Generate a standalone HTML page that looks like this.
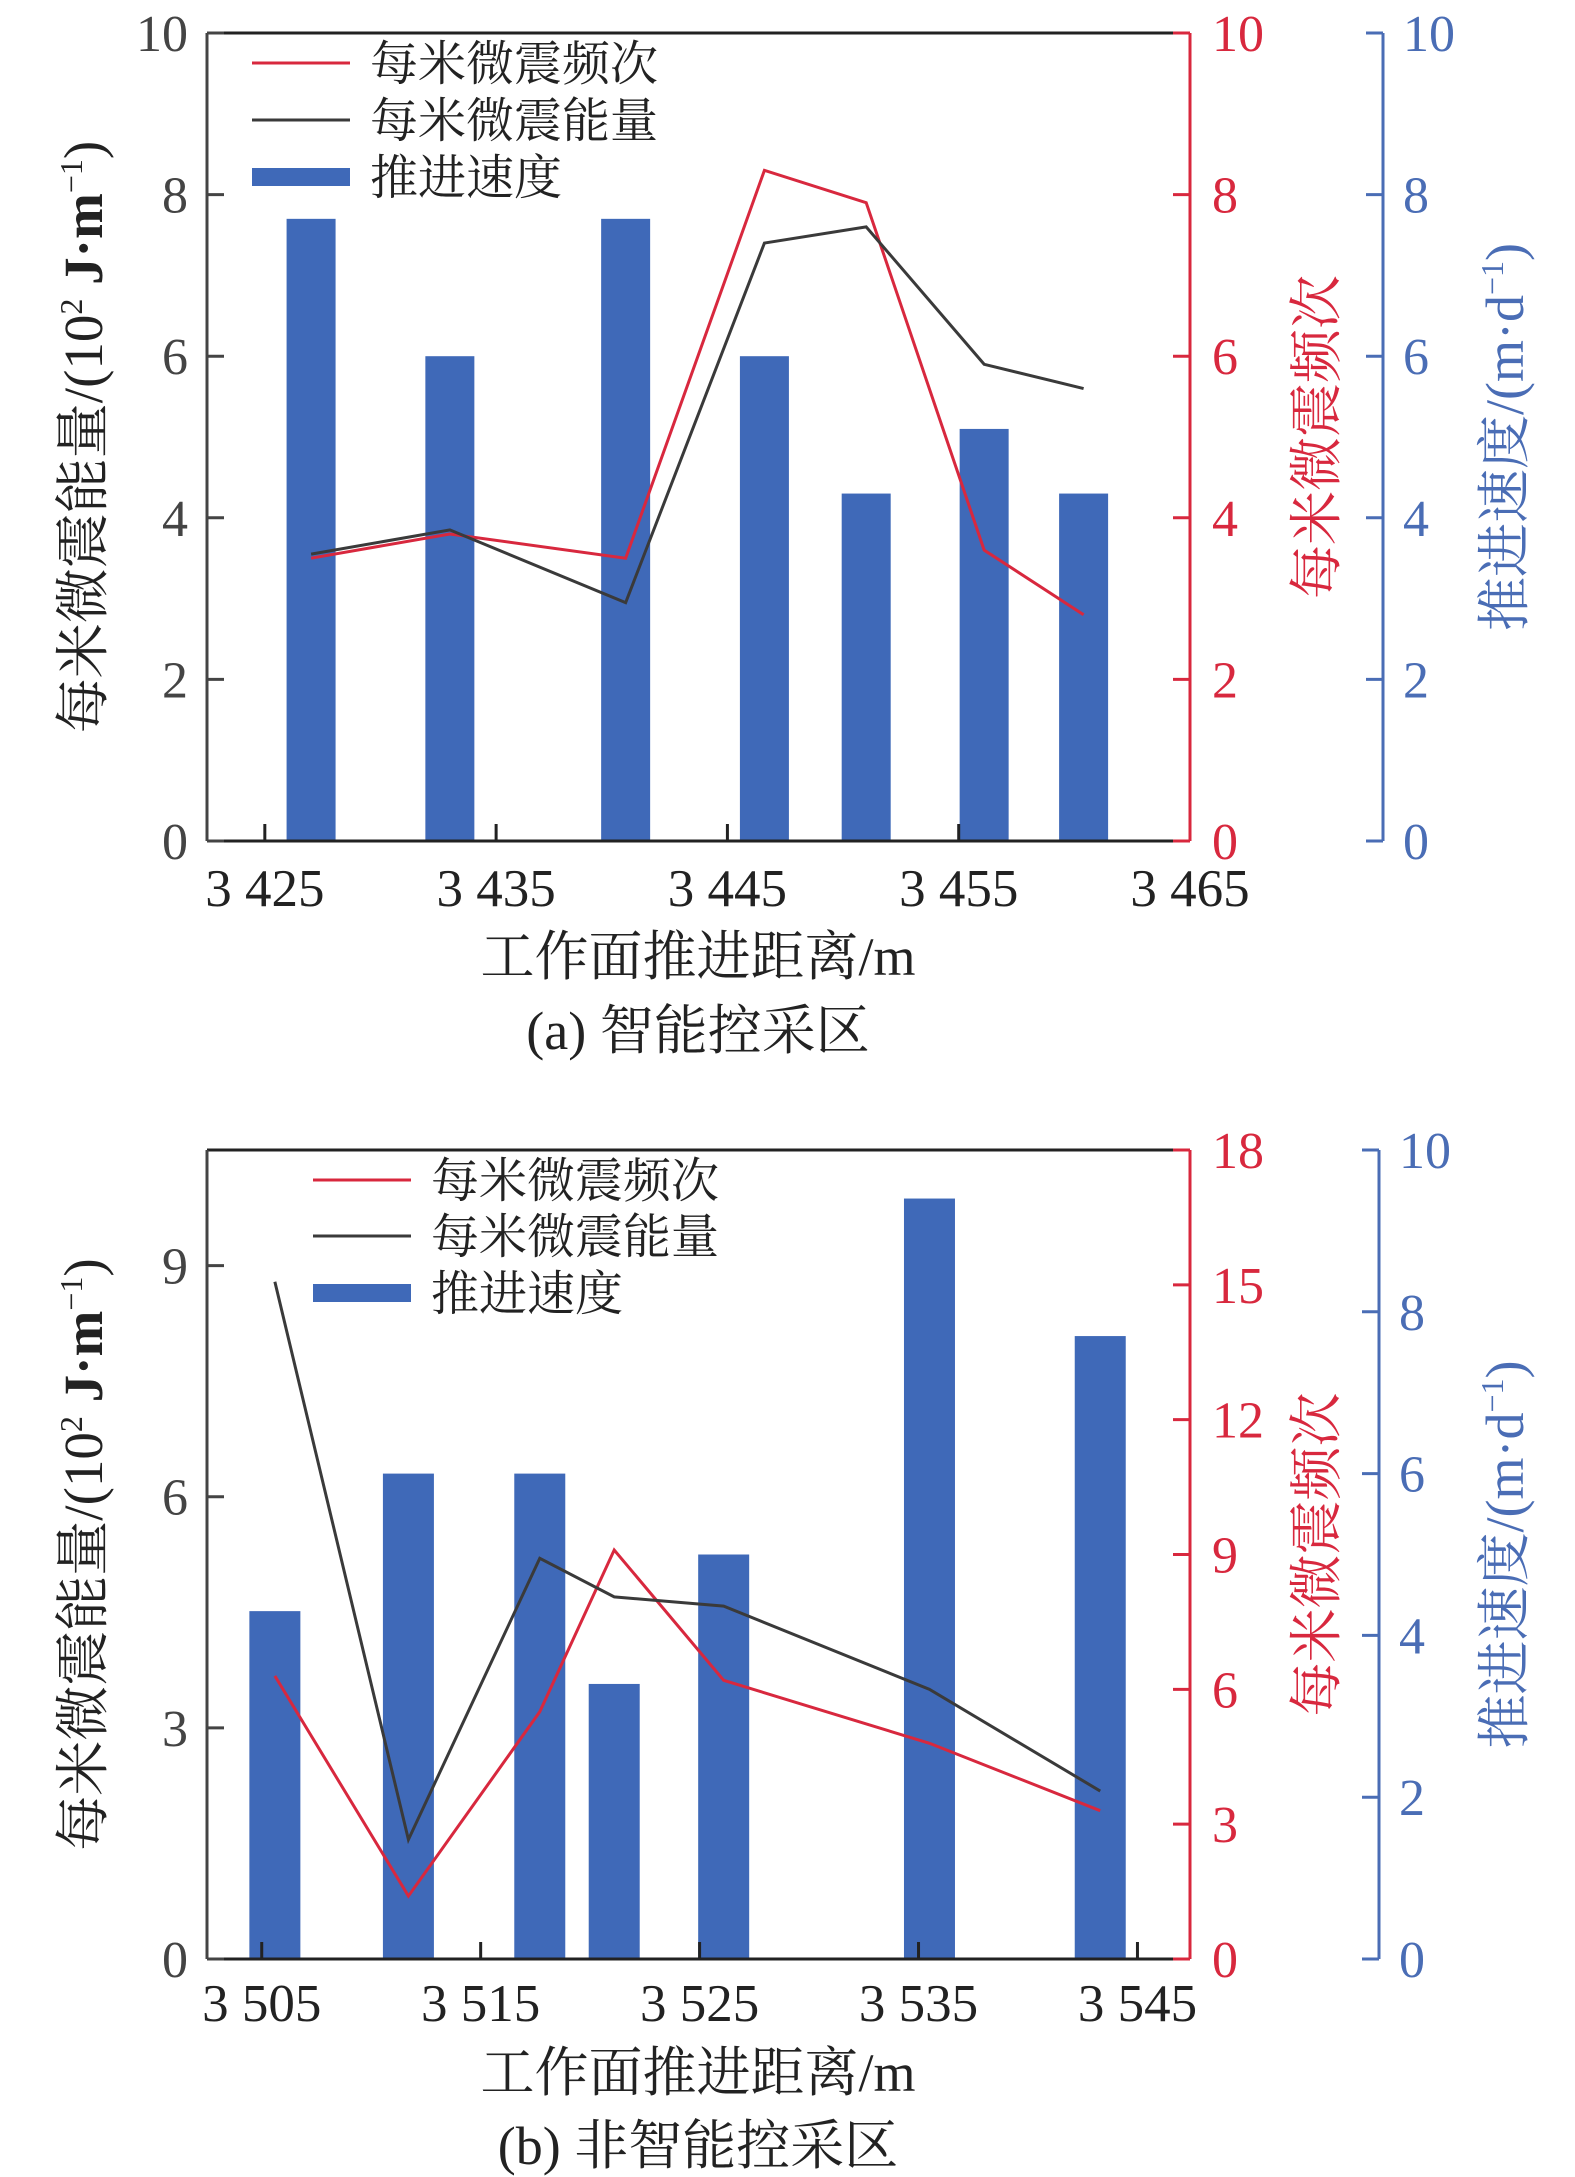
<!DOCTYPE html>
<html><head><meta charset="utf-8">
<style>
html,body{margin:0;padding:0;background:#fff;}
svg{display:block;}
text{font-family:"Liberation Serif","Noto Serif CJK SC","Noto Sans CJK SC",serif;}
</style></head>
<body>
<svg id="svg" width="1575" height="2177" viewBox="0 0 1575 2177" xmlns="http://www.w3.org/2000/svg"></svg>
<script>
// ---- Chart A data ----
const aX = [3427, 3433, 3440.6, 3446.6, 3451, 3456.1, 3460.4];
const aSpeed = [7.7, 6.0, 7.7, 6.0, 4.3, 5.1, 4.3];
const aFreq = [3.5, 3.8, 3.5, 8.3, 7.9, 3.6, 2.8];
const aEnergy = [3.55, 3.85, 2.95, 7.4, 7.6, 5.9, 5.6];
const aXTicks = [3425, 3435, 3445, 3455, 3465];
const aXTickLabels = ["3 425", "3 435", "3 445", "3 455", "3 465"];
const aLeftTicks = [0, 2, 4, 6, 8, 10];
const aRedTicks = [0, 2, 4, 6, 8, 10];
const aBlueTicks = [0, 2, 4, 6, 8, 10];
// ---- Chart B data ----
const bX = [3505.6, 3511.7, 3517.7, 3521.1, 3526.1, 3535.5, 3543.3];
const bSpeed = [4.3, 6.0, 6.0, 3.4, 5.0, 9.4, 7.7];
const bFreq = [6.3, 1.4, 5.5, 9.1, 6.2, 4.8, 3.3];
const bEnergy = [8.79, 1.55, 5.2, 4.7, 4.58, 3.5, 2.18];
const bXTicks = [3505, 3515, 3525, 3535, 3545];
const bXTickLabels = ["3 505", "3 515", "3 525", "3 535", "3 545"];
const bLeftTicks = [0, 3, 6, 9];
const bRedTicks = [0, 3, 6, 9, 12, 15, 18];
const bBlueTicks = [0, 2, 4, 6, 8, 10];

const NS = "http://www.w3.org/2000/svg";
const svg = document.getElementById('svg');
const RED = "#d8283e", BLK = "#3a3a3a", BLUE = "#3f69b8", BLUEAX = "#4a6db5";
function el(tag, attrs, parent, txt) {
  const e = document.createElementNS(NS, tag);
  for (const k in attrs) e.setAttribute(k, attrs[k]);
  if (txt !== undefined) e.textContent = txt;
  (parent || svg).appendChild(e);
  return e;
}

function drawChart(o) {
  const g = el('g', {});
  
  
  const L = 207, R = 1190, T = o.top, B = o.bottom, BA = o.blueAxis;
  const sx = v => L + (v - o.xmin) / (o.xmax - o.xmin) * (R - L);
  const syL = v => B - v / o.leftMax * (B - T);
  const syR = v => B - v / o.redMax * (B - T);
  const syB = v => B - v / o.blueMax * (B - T);
  const bw = o.barW;
  o.x.forEach((xv, i) => {
    const r = el('rect', {x: sx(xv) - bw / 2, y: syB(o.speed[i]), width: bw, height: B - syB(o.speed[i]), fill: BLUE}, g);
    
    
  });
  const fp = o.x.map((xv, i) => sx(xv) + ',' + syR(o.freq[i])).join(' ');
  const fl = el('polyline', {points: fp, fill: 'none', stroke: RED, 'stroke-width': 3}, g);
  
  
  const ep = o.x.map((xv, i) => sx(xv) + ',' + syL(o.energy[i])).join(' ');
  const elne = el('polyline', {points: ep, fill: 'none', stroke: BLK, 'stroke-width': 3}, g);
  
  
  el('line', {x1: L, y1: T, x2: R, y2: T, stroke: '#222', 'stroke-width': 3}, g);
  el('line', {x1: L, y1: T, x2: L, y2: B, stroke: '#444', 'stroke-width': 3}, g);
  el('line', {x1: L, y1: B, x2: R, y2: B, stroke: '#222', 'stroke-width': 3}, g);
  el('line', {x1: R, y1: T, x2: R, y2: B, stroke: RED, 'stroke-width': 3}, g);
  el('line', {x1: BA, y1: T, x2: BA, y2: B, stroke: BLUEAX, 'stroke-width': 3}, g);
  o.xTicks.forEach((t, i) => {
    const x = sx(t);
    if (x < R - 5) el('line', {x1: x, y1: B, x2: x, y2: B - 17, stroke: '#222', 'stroke-width': 3}, g);
    const tx = el('text', {x: x, y: B + o.xLabOff, 'text-anchor': 'middle', 'font-size': 53, fill: '#222'}, g, o.xLabels[i]);
    
    
  });
  o.leftTicks.forEach(t => {
    const y = syL(t);
    el('line', {x1: L, y1: y, x2: L + 17, y2: y, stroke: '#444', 'stroke-width': 3}, g);
    const tx = el('text', {x: 188, y: y + 18, 'text-anchor': 'end', 'font-size': 52, fill: '#444'}, g, String(t));
    
    
  });
  o.redTicks.forEach(t => {
    const y = syR(t);
    el('line', {x1: R, y1: y, x2: R - 17, y2: y, stroke: RED, 'stroke-width': 3}, g);
    const tx = el('text', {x: 1212, y: y + 18, 'font-size': 52, fill: RED}, g, String(t));
    
    
  });
  o.blueTicks.forEach(t => {
    const y = syB(t);
    el('line', {x1: BA, y1: y, x2: BA - 17, y2: y, stroke: BLUEAX, 'stroke-width': 3}, g);
    const tx = el('text', {x: BA + 20, y: y + 18, 'font-size': 52, fill: BLUEAX}, g, String(t));
    
    
  });
  const cy = (T + B) / 2;
  let t1 = el('text', {x: 0, y: 0, transform: `translate(102,${cy}) rotate(-90)`, 'text-anchor': 'middle', 'font-size': 55, fill: '#222'}, g);
  
  
  el('tspan', {}, t1, '每米微震能量/(10');
  el('tspan', {'font-size': 32, dy: -20}, t1, '2');
  el('tspan', {dy: 20, 'font-weight': 'bold'}, t1, ' J·m');
  el('tspan', {'font-size': 32, dy: -20}, t1, '−1');
  el('tspan', {dy: 20}, t1, ')');
  let t2 = el('text', {x: 0, y: 0, transform: `translate(1335,${cy}) rotate(-90)`, 'text-anchor': 'middle', 'font-size': 54, fill: RED}, g, '每米微震频次');
  
  
  let t3 = el('text', {x: 0, y: 0, transform: `translate(1523,${cy}) rotate(-90)`, 'text-anchor': 'middle', 'font-size': 54, fill: BLUEAX}, g);
  
  
  el('tspan', {}, t3, '推进速度/(m·d');
  el('tspan', {'font-size': 32, dy: -20}, t3, '−1');
  el('tspan', {dy: 20}, t3, ')');
  let xt = el('text', {x: 698, y: o.xTitleY, 'text-anchor': 'middle', 'font-size': 54, fill: '#222'}, g, '工作面推进距离/m');
  
  
  let cap = el('text', {x: 698, y: o.capY, 'text-anchor': 'middle', 'font-size': 54, fill: '#222'}, g, o.caption);
  
  
  const lg = el('g', {}, g);
  
  
  const lx = o.legX, ly = o.legY;
  el('line', {x1: lx, y1: ly[0], x2: lx + 98, y2: ly[0], stroke: RED, 'stroke-width': 3}, lg);
  el('line', {x1: lx, y1: ly[1], x2: lx + 98, y2: ly[1], stroke: BLK, 'stroke-width': 3}, lg);
  el('rect', {x: lx, y: ly[2] - 9, width: 98, height: 18, fill: BLUE}, lg);
  ['每米微震频次', '每米微震能量', '推进速度'].forEach((s, i) => {
    const tx = el('text', {x: lx + 118, y: ly[i] + 17, 'font-size': 48, fill: '#222'}, lg, s);
    
    
  });
}

drawChart({id: 'a', top: 33, bottom: 841, blueAxis: 1383, xmin: 3422.5, xmax: 3465, barW: 49,
  leftMax: 10, redMax: 10, blueMax: 10, x: aX, speed: aSpeed, freq: aFreq, energy: aEnergy,
  xTicks: aXTicks, xLabels: aXTickLabels, leftTicks: aLeftTicks, redTicks: aRedTicks, blueTicks: aBlueTicks, xLabOff: 65,
  xTitleY: 975, capY: 1049, caption: '(a) 智能控采区', legX: 252, legY: [63, 120, 177]});
drawChart({id: 'b', top: 1150, bottom: 1959, blueAxis: 1379, xmin: 3502.5, xmax: 3547.4, barW: 51,
  leftMax: 10.5, redMax: 18, blueMax: 10, x: bX, speed: bSpeed, freq: bFreq, energy: bEnergy,
  xTicks: bXTicks, xLabels: bXTickLabels, leftTicks: bLeftTicks, redTicks: bRedTicks, blueTicks: bBlueTicks, xLabOff: 62,
  xTitleY: 2091, capY: 2164, caption: '(b) 非智能控采区', legX: 313, legY: [1180, 1236, 1293]});
</script>
</body></html>
